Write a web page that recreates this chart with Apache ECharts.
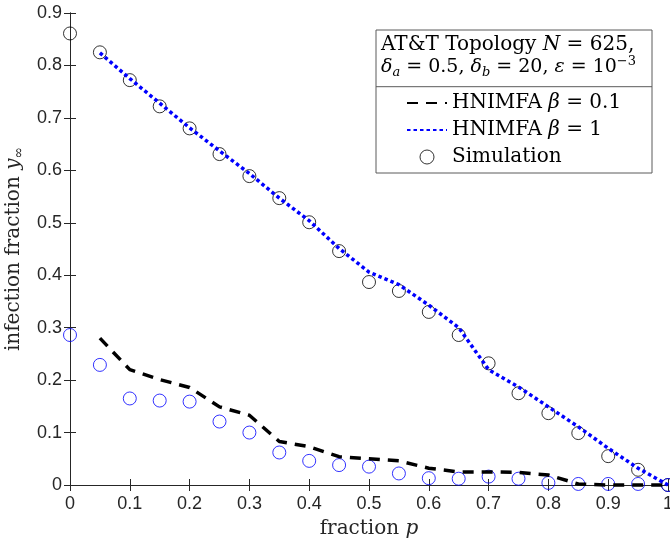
<!DOCTYPE html>
<html><head><meta charset="utf-8">
<script src="https://cdn.jsdelivr.net/npm/echarts@6/dist/echarts.min.js"></script>
<style>html,body{margin:0;padding:0;background:#fff}#c{width:670px;height:542px}</style>
</head><body><div id="c"></div>
<script>
// fraction p for simulation points
const pSim = [0,0.05,0.1,0.15,0.2,0.25,0.3,0.35,0.4,0.45,0.5,0.55,0.6,0.65,0.7,0.75,0.8,0.85,0.9,0.95,1];
// fraction p for HNIMFA curves
const pModel = [0.05,0.1,0.15,0.2,0.25,0.3,0.35,0.4,0.45,0.5,0.55,0.6,0.65,0.7,0.75,0.8,0.85,0.9,0.95,1];
const simBeta1 = [0.861,0.825,0.772,0.722,0.680,0.631,0.589,0.547,0.501,0.446,0.387,0.370,0.330,0.286,0.232,0.175,0.137,0.099,0.055,0.029,0.000];
const simBeta01 = [0.286,0.229,0.165,0.161,0.159,0.121,0.100,0.062,0.046,0.038,0.035,0.022,0.013,0.012,0.016,0.012,0.004,0.002,0.002,0.002,0.000];
const hnimfaBeta1 = [0.824,0.775,0.728,0.681,0.637,0.594,0.547,0.504,0.451,0.406,0.382,0.343,0.300,0.220,0.187,0.149,0.111,0.070,0.032,0.000];
const hnimfaBeta01 = [0.280,0.220,0.201,0.186,0.149,0.133,0.083,0.073,0.054,0.050,0.046,0.032,0.025,0.025,0.024,0.019,0.002,0.000,0.000,0.000];
const seriesNames = ['HNIMFA β = 0.1','HNIMFA β = 1','Simulation'];
const legendLabels = {
  'HNIMFA β = 0.1': '{n|HNIMFA }{i|β}{n| = 0.1}',
  'HNIMFA β = 1': '{n|HNIMFA }{i|β}{n| = 1}',
  'Simulation': '{n|Simulation}'
};

const zip = (xs, ys) => xs.map((x, i) => [x, ys[i]]);
const SERIF = 'DejaVu Serif';
const SANS = 'Liberation Sans';
const AX = '#262626';
const FS = 20;

const chart = echarts.init(document.getElementById('c'), null, {renderer: 'canvas'});
const axisCommon = {
  type: 'value', min: 0,
  axisLine: {show: true, lineStyle: {color: AX, width: 1}},
  axisTick: {show: true, inside: true, length: 6, lineStyle: {color: AX}},
  splitLine: {show: false}
};
const richSerif = {
  n: {fontFamily: SERIF, fontSize: FS, color: '#000'},
  i: {fontFamily: SERIF, fontSize: FS, fontStyle: 'italic', color: '#000'}
};
chart.setOption({
  animation: false,
  backgroundColor: '#fff',
  grid: {left: 70, right: 2, top: 13, bottom: 57, containLabel: false, outerBoundsMode: 'none'},
  xAxis: [
    Object.assign({}, axisCommon, {
      max: 1, interval: 0.1, position: 'bottom',
      axisLabel: {color: AX, fontFamily: SANS, fontSize: 18, margin: 10, showMaxLabel: true, showMinLabel: true},
      name: '{n|fraction }{i|p}', nameLocation: 'middle', nameGap: 34,
      nameTextStyle: {rich: {
        n: {fontFamily: SERIF, fontSize: FS, color: AX},
        i: {fontFamily: SERIF, fontSize: FS, fontStyle: 'italic', color: AX}
      }}
    }),
    Object.assign({}, axisCommon, {max: 1, interval: 0.1, position: 'top', axisLabel: {show: false}})
  ],
  yAxis: [
    Object.assign({}, axisCommon, {
      max: 0.9, interval: 0.1, position: 'left',
      axisLabel: {color: AX, fontFamily: SANS, fontSize: 18, margin: 8},
      name: '{n|infection fraction }{i|y}{s|∞}', nameLocation: 'middle', nameGap: 38, nameRotate: 90,
      nameTextStyle: {rich: {
        n: {fontFamily: SERIF, fontSize: FS, color: AX, lineHeight: 24},
        i: {fontFamily: SERIF, fontSize: FS, fontStyle: 'italic', color: AX, lineHeight: 24},
        s: {fontFamily: SERIF, fontSize: 14, color: AX, lineHeight: 14, verticalAlign: 'bottom'}
      }}
    }),
    Object.assign({}, axisCommon, {max: 0.9, interval: 0.1, position: 'right', axisLabel: {show: false}})
  ],
  legend: {
    orient: 'vertical', left: 401, top: 88, itemWidth: 40, itemHeight: 14, itemGap: 7,
    z: 6,
    data: [
      {name: seriesNames[0], itemStyle: {opacity: 0}},
      {name: seriesNames[1], itemStyle: {opacity: 0}},
      {name: seriesNames[2], icon: 'circle', itemStyle: {color: 'transparent', borderColor: '#000', borderWidth: 1}}
    ],
    formatter: name => legendLabels[name],
    textStyle: {fontFamily: SERIF, fontSize: FS, color: '#000', rich: richSerif}
  },
  graphic: [
    {type: 'rect', z: 5, shape: {x: 376, y: 30, width: 276, height: 143}, style: {fill: '#fff', stroke: '#5a5a5a', lineWidth: 1}},
    {type: 'line', z: 5, shape: {x1: 376, y1: 86.7, x2: 652, y2: 86.7}, style: {stroke: '#5a5a5a', lineWidth: 1}},
    {type: 'text', z: 6, left: 381, top: 35, style: {
      text: '{n|AT&T Topology }{i|N}{n| = 625,}',
      rich: {
        n: {fontFamily: SERIF, fontSize: FS, fill: '#000', lineHeight: 22},
        i: {fontFamily: SERIF, fontSize: FS, fontStyle: 'italic', fill: '#000', lineHeight: 22}
      }
    }},
    {type: 'text', z: 6, left: 381, top: 55, style: {
      text: '{i|δ}{s|a}{n| = 0.5, }{i|δ}{s|b}{n| = 20, }{i|ε}{n| = 10}{p|−3}',
      rich: {
        n: {fontFamily: SERIF, fontSize: 19, fill: '#000', lineHeight: 24},
        i: {fontFamily: SERIF, fontSize: 19, fontStyle: 'italic', fill: '#000', lineHeight: 24},
        s: {fontFamily: SERIF, fontSize: 13, fontStyle: 'italic', fill: '#000', lineHeight: 14, verticalAlign: 'bottom'},
        p: {fontFamily: SERIF, fontSize: 13, fill: '#000', lineHeight: 14, verticalAlign: 'top'}
      }
    }}
  ],
  series: [
    {
      name: 'HNIMFA β = 0.1', type: 'line', data: zip(pModel, hnimfaBeta01),
      symbol: 'none', clip: false, z: 3,
      lineStyle: {color: '#000', width: 3.5, type: [11, 8], cap: 'butt'},
      itemStyle: {color: '#000'}
    },
    {
      name: 'HNIMFA β = 1', type: 'line', data: zip(pModel, hnimfaBeta1),
      symbol: 'none', clip: false, z: 3,
      lineStyle: {color: '#0000ff', width: 3.5, type: [3.5, 3], cap: 'butt'},
      itemStyle: {color: '#0000ff'}
    },
    {
      name: 'Simulation', type: 'scatter', data: zip(pSim, simBeta1),
      symbol: 'circle', symbolSize: 13, clip: false, z: 2,
      itemStyle: {color: 'rgba(0,0,0,0)', borderColor: '#000', borderWidth: 1}
    },
    {
      name: 'Simulation β = 0.1', type: 'scatter', data: zip(pSim, simBeta01),
      symbol: 'circle', symbolSize: 13, clip: false, z: 2,
      itemStyle: {color: 'rgba(0,0,0,0)', borderColor: '#0000ff', borderWidth: 1}
    }
  ]
});
</script>
</body></html>
